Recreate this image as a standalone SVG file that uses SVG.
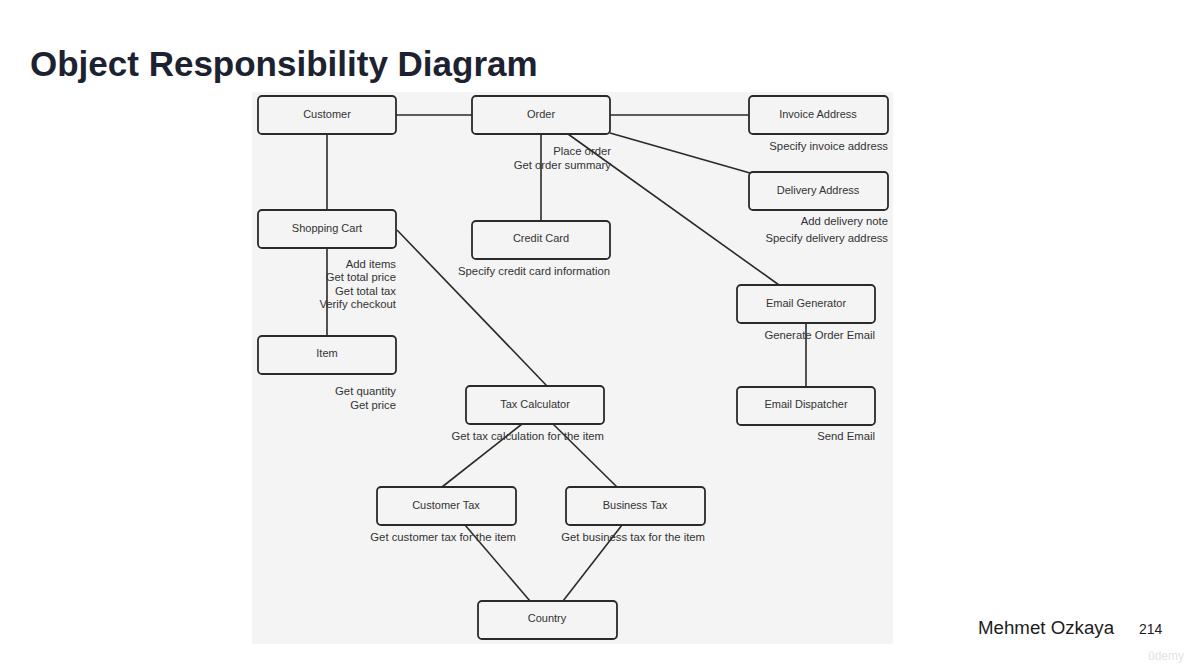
<svg xmlns="http://www.w3.org/2000/svg" width="1190" height="668" viewBox="0 0 1190 668">
<style>
.title{font-family:"Liberation Sans",Arial,sans-serif;font-weight:bold;font-size:35px;fill:#1c2230}
.box{fill:#f4f4f4;stroke:#2a2a2a;stroke-width:1.8}
.nt{font-family:"Liberation Sans",Arial,sans-serif;font-size:11px;fill:#333;text-anchor:middle}
.lb{font-family:"Liberation Sans",Arial,sans-serif;font-size:11.3px;fill:#333;text-anchor:end}
.ln{stroke:#2a2a2a;stroke-width:1.6;fill:none}
.ft{font-family:"Liberation Sans",Arial,sans-serif;fill:#1c1c1c}
</style>
<rect width="1190" height="668" fill="#ffffff"/>
<text class="title" x="30" y="76">Object Responsibility Diagram</text>
<rect x="252" y="92" width="641" height="552" fill="#f4f4f4"/>
<g id="connectors">
<line class="ln" x1="396" y1="115" x2="472" y2="115"/>
<line class="ln" x1="610" y1="115" x2="749" y2="115"/>
<line class="ln" x1="327" y1="134" x2="327" y2="210"/>
<line class="ln" x1="541" y1="134" x2="541" y2="221"/>
<line class="ln" x1="610" y1="133" x2="750" y2="173"/>
<line class="ln" x1="568" y1="134" x2="779" y2="285"/>
<line class="ln" x1="397" y1="230" x2="547" y2="386"/>
<line class="ln" x1="327" y1="248" x2="327" y2="336"/>
<line class="ln" x1="806" y1="323" x2="806" y2="387"/>
<line class="ln" x1="522" y1="424" x2="442" y2="487"/>
<line class="ln" x1="553" y1="424" x2="617" y2="487"/>
<line class="ln" x1="465" y1="525" x2="530" y2="601"/>
<line class="ln" x1="622" y1="525" x2="563" y2="601"/>
</g>
<g id="customer"><rect class="box" x="258" y="96" width="138" height="38" rx="4"/><text class="nt" x="327" y="118">Customer</text></g>
<g id="order"><rect class="box" x="472" y="96" width="138" height="38" rx="4"/><text class="nt" x="541" y="118">Order</text>
<text class="lb" x="611" y="155">Place order</text><text class="lb" x="611" y="169">Get order summary</text></g>
<g id="invoice-address"><rect class="box" x="749" y="96" width="139" height="38" rx="4"/><text class="nt" x="818" y="118">Invoice Address</text>
<text class="lb" x="888" y="150">Specify invoice address</text></g>
<g id="delivery-address"><rect class="box" x="749" y="172" width="139" height="38" rx="4"/><text class="nt" x="818" y="194">Delivery Address</text>
<text class="lb" x="888" y="225">Add delivery note</text><text class="lb" x="888" y="242">Specify delivery address</text></g>
<g id="shopping-cart"><rect class="box" x="258" y="210" width="138" height="38" rx="4"/><text class="nt" x="327" y="232">Shopping Cart</text>
<text class="lb" x="396" y="268">Add items</text><text class="lb" x="396" y="281">Get total price</text><text class="lb" x="396" y="295">Get total tax</text><text class="lb" x="396" y="308">Verify checkout</text></g>
<g id="credit-card"><rect class="box" x="472" y="221" width="138" height="38" rx="4"/><text class="nt" x="541" y="242">Credit Card</text>
<text class="lb" x="610" y="275">Specify credit card information</text></g>
<g id="email-generator"><rect class="box" x="737" y="285" width="138" height="38" rx="4"/><text class="nt" x="806" y="307">Email Generator</text>
<text class="lb" x="875" y="339">Generate Order Email</text></g>
<g id="item"><rect class="box" x="258" y="336" width="138" height="38" rx="4"/><text class="nt" x="327" y="357">Item</text>
<text class="lb" x="396" y="395">Get quantity</text><text class="lb" x="396" y="409">Get price</text></g>
<g id="tax-calculator"><rect class="box" x="466" y="386" width="138" height="38" rx="4"/><text class="nt" x="535" y="408">Tax Calculator</text>
<text class="lb" x="604" y="440">Get tax calculation for the item</text></g>
<g id="email-dispatcher"><rect class="box" x="737" y="387" width="138" height="38" rx="4"/><text class="nt" x="806" y="408">Email Dispatcher</text>
<text class="lb" x="875" y="440">Send Email</text></g>
<g id="customer-tax"><rect class="box" x="377" y="487" width="139" height="38" rx="4"/><text class="nt" x="446" y="509">Customer Tax</text>
<text class="lb" x="516" y="541">Get customer tax for the item</text></g>
<g id="business-tax"><rect class="box" x="566" y="487" width="139" height="38" rx="4"/><text class="nt" x="635" y="509">Business Tax</text>
<text class="lb" x="705" y="541">Get business tax for the item</text></g>
<g id="country"><rect class="box" x="478" y="601" width="139" height="38" rx="4"/><text class="nt" x="547" y="622">Country</text></g>
<text class="ft" x="978" y="634" font-size="18.7">Mehmet Ozkaya</text>
<text class="ft" x="1139" y="634" font-size="14">214</text>
<text class="ft" x="1148" y="660" font-size="12" style="fill:#e4e4e4">ûdemy</text>
</svg>
